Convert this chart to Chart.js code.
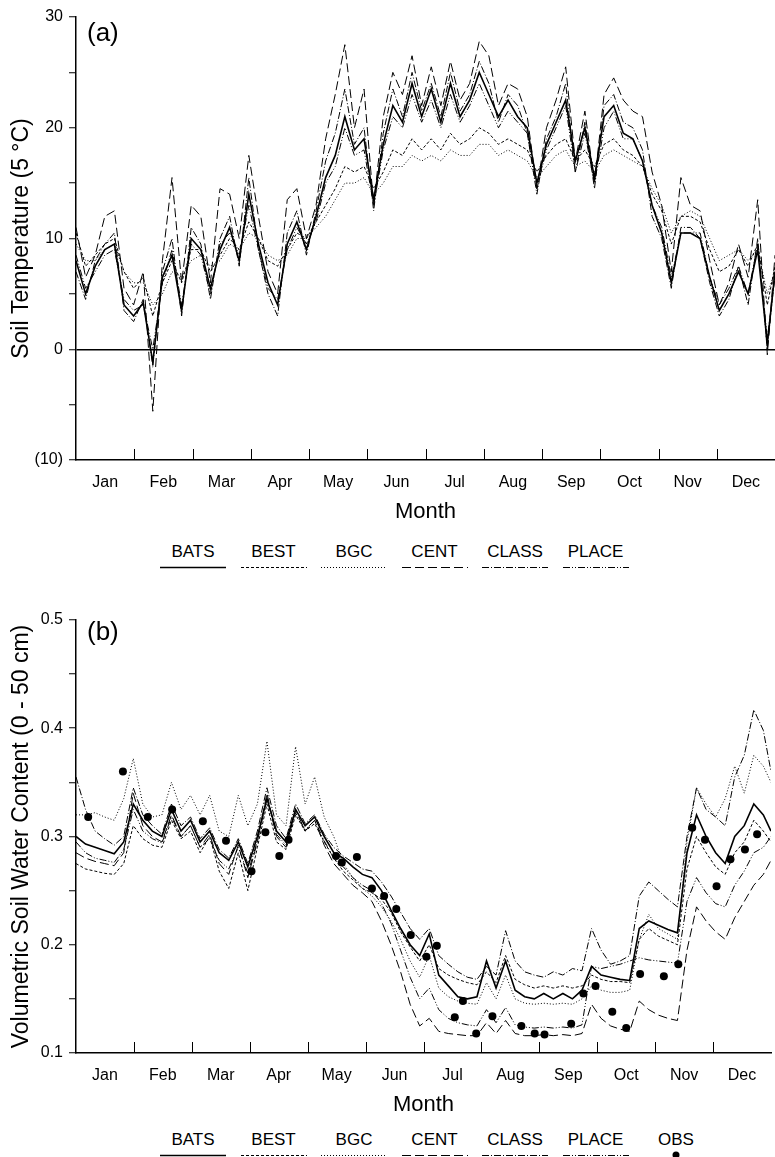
<!DOCTYPE html>
<html>
<head>
<meta charset="utf-8">
<script src="https://cdn.jsdelivr.net/npm/chart.js@4.4.1/dist/chart.umd.min.js"></script>
<style>
  body { margin: 0; background: #fff; font-family: "Liberation Sans", Arial, sans-serif; }
  #wrap { position: relative; width: 775px; height: 1157px; overflow: hidden; }
  #wrap canvas.chart { position: absolute; left: 0; }
  .tag { position: absolute; left: 87px; font-size: 26px; line-height: 30px; color: #000; }
  .legend { position: absolute; left: 0; width: 775px; height: 30px; }
  .item { position: absolute; width: 80px; text-align: center; font-size: 17px; line-height: 18px; color: #000; }
  .item canvas { display: block; margin: 2px auto 0 auto; }
</style>
</head>
<body>
<div id="wrap">
  <canvas id="chartA" class="chart" width="775" height="530" style="top:0"></canvas>
  <div class="tag" style="top:17px">(a)</div>
  <div id="legendA" class="legend" style="top:543px"></div>

  <canvas id="chartB" class="chart" width="775" height="523" style="top:600px"></canvas>
  <div class="tag" style="top:616px">(b)</div>
  <div id="legendB" class="legend" style="top:1131px"></div>
</div>
<script>
const months = ["Jan", "Feb", "Mar", "Apr", "May", "Jun", "Jul", "Aug", "Sep", "Oct", "Nov", "Dec"];
const models = ["BATS", "BEST", "BGC", "CENT", "CLASS", "PLACE"];

// day of year for every model value
const days = [1, 6, 11, 16, 21, 26, 31, 36, 41, 46, 51, 56, 61, 66, 71, 76, 81, 86, 91, 96,
  101, 106, 111, 116, 121, 126, 131, 136, 141, 146, 151, 156, 161, 166, 171, 176, 181, 186, 191, 196,
  201, 206, 211, 216, 221, 226, 231, 236, 241, 246, 251, 256, 261, 266, 271, 276, 281, 286, 291, 296,
  301, 306, 311, 316, 321, 326, 331, 336, 341, 346, 351, 356, 361, 365];

// (a) soil temperature
const tempBATS = [8.0, 5.0, 7.5, 9.0, 9.5, 4.0, 3.0, 4.2, -1.2, 6.5,
  8.5, 3.5, 10.0, 9.0, 5.5, 9.0, 11.0, 8.0, 14.0, 9.5,
  6.0, 4.0, 9.5, 11.5, 9.0, 12.0, 15.5, 17.5, 21.0, 18.0,
  19.0, 13.5, 18.5, 22.0, 20.5, 24.0, 21.0, 23.5, 20.5, 24.0,
  21.0, 22.5, 25.0, 23.0, 21.0, 22.5, 21.0, 20.0, 15.0, 18.5,
  20.5, 22.5, 17.0, 20.0, 15.5, 21.0, 22.0, 19.5, 19.0, 17.0,
  13.0, 10.5, 6.0, 10.5, 10.5, 10.0, 6.5, 3.5, 5.0, 7.0,
  5.0, 9.0, 0.5, 7.0];
const tempBEST = [10.5, 7.5, 8.5, 9.5, 10.0, 7.0, 5.5, 6.5, 3.0, 6.0,
  8.0, 6.0, 9.0, 9.0, 7.0, 8.5, 10.0, 9.0, 11.5, 10.0,
  8.0, 7.5, 9.0, 10.5, 10.0, 11.5, 13.0, 14.5, 16.5, 16.0,
  16.5, 14.5, 16.0, 18.0, 17.5, 19.0, 18.0, 19.0, 18.0, 19.5,
  18.5, 19.0, 20.0, 19.5, 18.5, 19.0, 18.5, 18.0, 16.0, 17.5,
  18.5, 19.0, 17.0, 18.0, 16.5, 18.5, 19.0, 18.0, 17.5, 16.5,
  14.0, 12.5, 9.5, 12.0, 12.0, 11.5, 9.0, 7.0, 7.5, 9.0,
  7.5, 9.5, 4.0, 7.5];
const tempBGC = [9.5, 8.0, 8.0, 9.0, 9.5, 7.0, 6.0, 6.0, 4.0, 5.0,
  7.0, 6.5, 8.0, 8.5, 7.5, 8.0, 9.5, 9.0, 10.5, 10.0,
  8.5, 8.0, 8.5, 10.0, 10.0, 11.0, 12.0, 13.5, 15.0, 15.0,
  15.5, 14.0, 15.0, 16.5, 16.5, 17.5, 17.0, 17.5, 17.0, 18.0,
  17.5, 17.5, 18.5, 18.5, 17.5, 18.0, 17.5, 17.0, 15.5, 16.5,
  17.5, 18.0, 16.5, 17.0, 16.0, 17.5, 18.0, 17.5, 17.0, 16.5,
  14.5, 13.0, 10.5, 12.0, 12.5, 12.0, 10.0, 8.0, 8.5, 9.0,
  8.0, 9.0, 5.0, 7.0];
const tempCENT = [11.0, 6.5, 8.5, 12.0, 12.5, 5.5, 4.0, 7.0, -5.6, 8.0,
  15.5, 6.0, 13.0, 12.0, 6.0, 14.5, 14.0, 10.0, 17.5, 12.0,
  7.0, 5.0, 13.5, 14.5, 10.0, 13.0, 19.0, 23.0, 27.5, 20.0,
  23.5, 13.0, 21.0, 25.0, 23.0, 26.5, 22.0, 25.5, 22.0, 26.0,
  22.5, 24.0, 27.8, 26.5, 22.0, 24.0, 23.5, 21.0, 14.5, 20.0,
  22.5, 25.5, 17.0, 21.5, 15.0, 23.0, 24.5, 22.5, 21.5, 21.0,
  16.0, 13.0, 7.0, 15.5, 13.0, 12.5, 8.0, 4.0, 6.0, 9.5,
  6.5, 13.5, -0.5, 8.5];
const tempCLASS = [7.0, 4.5, 8.0, 9.5, 10.5, 3.5, 2.5, 4.5, -1.5, 7.0,
  10.0, 3.0, 11.0, 9.5, 4.5, 10.0, 12.0, 7.5, 15.5, 9.0,
  5.0, 3.0, 10.5, 12.5, 8.5, 12.5, 17.0, 19.5, 23.5, 18.5,
  20.0, 12.5, 19.5, 23.5, 21.0, 25.0, 21.5, 24.0, 21.0, 25.0,
  21.5, 23.0, 26.0, 24.0, 20.5, 23.0, 22.0, 19.5, 14.0, 19.0,
  21.0, 24.0, 16.0, 20.5, 14.5, 22.0, 23.0, 20.5, 20.0, 18.0,
  12.0, 10.0, 5.5, 11.0, 11.0, 10.0, 6.0, 3.0, 4.5, 7.5,
  4.0, 10.0, 0.0, 7.0];
const tempPLACE = [8.5, 5.5, 7.0, 8.5, 9.0, 4.5, 3.5, 4.0, 0.0, 6.0,
  9.0, 4.0, 9.5, 8.5, 5.0, 9.5, 10.5, 8.5, 13.0, 9.0,
  5.5, 4.5, 9.0, 11.0, 9.5, 11.5, 15.0, 16.5, 20.0, 17.5,
  18.0, 13.0, 18.0, 21.0, 20.0, 23.0, 20.5, 22.5, 20.0, 23.0,
  20.5, 22.0, 24.0, 22.0, 20.0, 21.5, 20.5, 19.5, 14.5, 18.0,
  20.0, 22.0, 16.0, 19.5, 15.0, 20.0, 21.5, 19.0, 19.0, 17.0,
  13.0, 11.0, 6.5, 10.5, 10.5, 10.5, 6.5, 4.0, 5.5, 7.5,
  5.0, 9.5, 1.0, 6.5];

// (b) volumetric soil water content, 0 - 50 cm
const swcBATS = [0.300, 0.293, 0.290, 0.287, 0.284, 0.295, 0.330, 0.315, 0.305, 0.300,
  0.325, 0.305, 0.315, 0.295, 0.305, 0.285, 0.278, 0.295, 0.272, 0.300,
  0.335, 0.305, 0.295, 0.325, 0.310, 0.318, 0.300, 0.285, 0.280, 0.272,
  0.265, 0.262, 0.250, 0.232, 0.215, 0.200, 0.190, 0.210, 0.172, 0.162,
  0.152, 0.150, 0.152, 0.185, 0.160, 0.185, 0.158, 0.152, 0.150, 0.155,
  0.150, 0.155, 0.150, 0.158, 0.180, 0.172, 0.170, 0.168, 0.167, 0.215,
  0.222, 0.218, 0.214, 0.211, 0.285, 0.320, 0.300, 0.285, 0.275, 0.300,
  0.310, 0.330, 0.320, 0.305];
const swcBEST = [0.275, 0.270, 0.268, 0.266, 0.265, 0.275, 0.310, 0.298, 0.292, 0.290,
  0.315, 0.298, 0.305, 0.285, 0.300, 0.268, 0.252, 0.285, 0.250, 0.290,
  0.330, 0.295, 0.288, 0.320, 0.305, 0.312, 0.295, 0.280, 0.268, 0.260,
  0.252, 0.248, 0.242, 0.230, 0.212, 0.198, 0.185, 0.200, 0.178, 0.172,
  0.168, 0.165, 0.163, 0.175, 0.165, 0.190, 0.168, 0.163, 0.160, 0.162,
  0.160, 0.162, 0.160, 0.162, 0.172, 0.168, 0.166, 0.166, 0.165, 0.205,
  0.215, 0.208, 0.204, 0.200, 0.270, 0.300, 0.285, 0.272, 0.265, 0.285,
  0.295, 0.315, 0.305, 0.295];
const swcBGC = [0.320, 0.320, 0.322, 0.318, 0.315, 0.335, 0.372, 0.330, 0.318, 0.320,
  0.350, 0.325, 0.338, 0.320, 0.338, 0.305, 0.300, 0.338, 0.310, 0.330,
  0.388, 0.320, 0.310, 0.383, 0.330, 0.355, 0.318, 0.300, 0.275, 0.262,
  0.252, 0.245, 0.235, 0.222, 0.205, 0.185, 0.170, 0.190, 0.160, 0.152,
  0.148, 0.146, 0.145, 0.165, 0.150, 0.172, 0.150, 0.146, 0.145, 0.146,
  0.145, 0.146, 0.145, 0.150, 0.162, 0.158, 0.156, 0.156, 0.158, 0.205,
  0.228, 0.215, 0.210, 0.205, 0.295, 0.345, 0.330, 0.318, 0.335, 0.365,
  0.340, 0.375, 0.365, 0.350];
const swcCENT = [0.285, 0.280, 0.277, 0.275, 0.273, 0.285, 0.340, 0.310, 0.300, 0.295,
  0.320, 0.300, 0.310, 0.290, 0.302, 0.275, 0.265, 0.292, 0.262, 0.295,
  0.340, 0.300, 0.290, 0.325, 0.305, 0.315, 0.292, 0.275, 0.265, 0.255,
  0.248, 0.240, 0.222, 0.200, 0.175, 0.145, 0.125, 0.132, 0.120, 0.118,
  0.117, 0.116, 0.116, 0.128, 0.118, 0.130, 0.118, 0.116, 0.116, 0.117,
  0.116, 0.117, 0.116, 0.118, 0.145, 0.132, 0.125, 0.122, 0.120, 0.148,
  0.140, 0.135, 0.132, 0.130, 0.195, 0.235, 0.222, 0.212, 0.205, 0.225,
  0.240, 0.255, 0.265, 0.278];
const swcCLASS = [0.355, 0.325, 0.305, 0.298, 0.292, 0.300, 0.345, 0.320, 0.310, 0.302,
  0.330, 0.310, 0.318, 0.298, 0.308, 0.288, 0.280, 0.298, 0.275, 0.305,
  0.345, 0.310, 0.298, 0.330, 0.312, 0.320, 0.302, 0.290, 0.282, 0.276,
  0.270, 0.268, 0.258, 0.245, 0.230, 0.215, 0.205, 0.215, 0.190, 0.182,
  0.175, 0.170, 0.168, 0.180, 0.172, 0.213, 0.185, 0.175, 0.172, 0.170,
  0.175, 0.172, 0.178, 0.176, 0.215, 0.195, 0.182, 0.185, 0.190, 0.245,
  0.258, 0.250, 0.242, 0.235, 0.300, 0.345, 0.325, 0.318, 0.310, 0.355,
  0.375, 0.417, 0.398, 0.360];
const swcPLACE = [0.295, 0.285, 0.280, 0.278, 0.276, 0.288, 0.325, 0.305, 0.298, 0.294,
  0.318, 0.300, 0.310, 0.290, 0.298, 0.278, 0.270, 0.290, 0.266, 0.296,
  0.335, 0.302, 0.292, 0.322, 0.306, 0.315, 0.296, 0.280, 0.272, 0.262,
  0.255, 0.250, 0.238, 0.220, 0.195, 0.170, 0.150, 0.160, 0.140, 0.132,
  0.128, 0.126, 0.125, 0.140, 0.128, 0.142, 0.126, 0.124, 0.123, 0.124,
  0.123, 0.124, 0.123, 0.126, 0.180, 0.178, 0.180, 0.182, 0.185, 0.188,
  0.186, 0.185, 0.184, 0.183, 0.240, 0.262, 0.248, 0.238, 0.235, 0.255,
  0.268, 0.285, 0.290, 0.300];

// observations (position in months from 1 Jan)
const obsMonth = [0.21, 0.81, 1.24, 1.66, 2.19, 2.59, 3.03, 3.27, 3.51, 3.67,
  4.49, 4.59, 4.85, 5.11, 5.32, 5.53, 5.78, 6.05, 6.23, 6.54,
  6.68, 6.91, 7.19, 7.69, 7.92, 8.09, 8.55, 8.76, 8.97, 9.26,
  9.50, 9.74, 10.15, 10.40, 10.64, 10.86, 11.06, 11.30, 11.55, 11.76];
const obsValue = [0.318, 0.360, 0.318, 0.325, 0.314, 0.296, 0.268, 0.304, 0.282, 0.297,
  0.282, 0.276, 0.281, 0.252, 0.245, 0.233, 0.209, 0.189, 0.199, 0.133,
  0.148, 0.118, 0.134, 0.125, 0.118, 0.117, 0.127, 0.155, 0.162, 0.138,
  0.123, 0.173, 0.171, 0.182, 0.308, 0.297, 0.254, 0.279, 0.288, 0.302];

const lineStyle = {
  BATS:  { dash: [], width: 1.6 },
  BEST:  { dash: [3, 2], width: 1 },
  BGC:   { dash: [1, 2], width: 1 },
  CENT:  { dash: [9, 4], width: 1 },
  CLASS: { dash: [7, 2, 1, 2], width: 1 },
  PLACE: { dash: [7, 2, 1, 2, 1, 2], width: 1 }
};

const FONT = "'Liberation Sans', Arial, sans-serif";
Chart.defaults.font.family = FONT;
Chart.defaults.color = "#000";

function toPoints(values) {
  return days.map((d, i) => ({ x: (d - 1) / 364 * 12, y: values[i] }));
}

function modelSets(series) {
  return models.map((name, i) => ({
    label: name,
    data: toPoints(series[i]),
    borderColor: "#000",
    borderWidth: lineStyle[name].width,
    borderDash: lineStyle[name].dash,
    pointRadius: 0,
    tension: 0,
    fill: false
  }));
}

// short month-boundary ticks pointing up into the plot
const monthTicks = {
  id: "monthTicks",
  afterDraw(chart) {
    const { ctx, chartArea, scales } = chart;
    ctx.save();
    ctx.strokeStyle = "#000";
    ctx.lineWidth = 1;
    for (let i = 1; i < 12; i++) {
      const px = Math.round(scales.x.getPixelForValue(i)) + 0.5;
      ctx.beginPath();
      ctx.moveTo(px, chartArea.bottom);
      ctx.lineTo(px, chartArea.bottom - 11);
      ctx.stroke();
    }
    ctx.restore();
  }
};

function makeChart(id, datasets, y, topPad) {
  return new Chart(document.getElementById(id), {
    type: "line",
    data: { datasets: datasets },
    plugins: [monthTicks],
    options: {
      responsive: false,
      animation: false,
      layout: { padding: { top: topPad, right: 0, bottom: 0, left: 0 } },
      plugins: { legend: { display: false }, tooltip: { enabled: false } },
      scales: {
        x: {
          type: "linear",
          min: 0,
          max: 12,
          afterBuildTicks: s => { s.ticks = months.map((m, i) => ({ value: i + 0.5 })); },
          afterFit: s => { s.height = 70; },
          ticks: { callback: (v, i) => months[i], font: { size: 16 }, padding: 13, maxRotation: 0, autoSkip: false },
          grid: { display: false, drawTicks: false },
          border: { color: "#000", width: 1.5 },
          title: { display: true, text: "Month", font: { size: 22 }, padding: { bottom: 5 } }
        },
        y: Object.assign({
          afterFit: s => { s.width = 76; },
          grid: {
            drawOnChartArea: true,
            color: c => (c.tick && c.tick.value === y.zero ? "#000" : "rgba(0,0,0,0)"),
            lineWidth: 1.5,
            tickColor: "#000",
            tickWidth: 1,
            tickLength: 7
          },
          border: { color: "#000", width: 1.5 }
        }, y.opts)
      }
    }
  });
}

makeChart("chartA", modelSets([tempBATS, tempBEST, tempBGC, tempCENT, tempCLASS, tempPLACE]), {
  zero: 0,
  opts: {
    min: -10,
    max: 30,
    ticks: {
      stepSize: 5,
      font: { size: 16 },
      padding: 6,
      callback: v => (v % 10 === 0 ? (v < 0 ? "(" + (-v) + ")" : String(v)) : "")
    },
    title: { display: true, text: "Soil Temperature (5 °C)", font: { size: 23 }, padding: { top: 8 } }
  }
}, 17);

const setsB = modelSets([swcBATS, swcBEST, swcBGC, swcCENT, swcCLASS, swcPLACE]);
setsB.push({
  label: "OBS",
  data: obsMonth.map((m, i) => ({ x: m, y: obsValue[i] })),
  showLine: false,
  pointRadius: 4,
  pointBackgroundColor: "#000",
  pointBorderColor: "#000",
  pointBorderWidth: 0
});

makeChart("chartB", setsB, {
  zero: -1,
  opts: {
    min: 0.1,
    max: 0.5,
    ticks: {
      stepSize: 0.05,
      font: { size: 16 },
      padding: 6,
      callback: v => { const r = Math.round(v * 100); return r % 10 === 0 ? (r / 100).toFixed(1) : ""; }
    },
    title: { display: true, text: "Volumetric Soil Water Content (0 - 50 cm)", font: { size: 23 }, padding: { top: 8 } }
  }
}, 20);

// legends: name above a short line sample
function buildLegend(id, names) {
  const box = document.getElementById(id);
  names.forEach((name, i) => {
    const item = document.createElement("div");
    item.className = "item";
    item.style.left = (153 + i * 80.5) + "px";
    item.textContent = name;
    const c = document.createElement("canvas");
    c.width = 66; c.height = 8;
    const g = c.getContext("2d");
    g.strokeStyle = "#000"; g.fillStyle = "#000";
    if (name === "OBS") {
      g.beginPath(); g.arc(33, 4, 3.5, 0, Math.PI * 2); g.fill();
    } else {
      g.lineWidth = lineStyle[name].width;
      g.setLineDash(lineStyle[name].dash);
      g.beginPath(); g.moveTo(0, 4.5); g.lineTo(66, 4.5); g.stroke();
    }
    item.appendChild(c);
    box.appendChild(item);
  });
}
buildLegend("legendA", models);
buildLegend("legendB", models.concat(["OBS"]));
</script>
</body>
</html>
